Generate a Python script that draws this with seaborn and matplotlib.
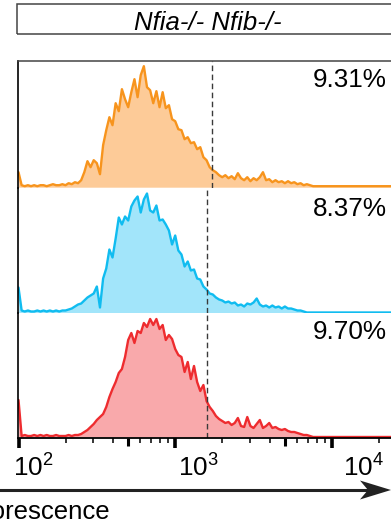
import numpy as np
import pandas as pd
import matplotlib
matplotlib.use("Agg")
import matplotlib.pyplot as plt
import matplotlib.transforms as mtransforms
from matplotlib.patches import Polygon, Rectangle
from matplotlib.lines import Line2D
import seaborn as sns

# ---------------- data ----------------
TITLE = "Nfia-/- Nfib-/-"
XLABEL = "Fluorescence"
PERCENTS = ["9.31%", "8.37%", "9.70%"]
GATES = [1718, 1596, 1596]
LINE_COLORS = ["#F7941D", "#10BCF0", "#EE2C2F"]
FILL_COLORS = ["#FDCB98", "#A2E5FA", "#F9A9AB"]

TICK_VALUES = [1e2, 5e2, 1e3, 5e3, 1e4]
TICK_LABELS = [r"$\mathregular{10^{2}}$", "", r"$\mathregular{10^{3}}$", "",
               r"$\mathregular{10^{4}}$"]
MINOR_TICKS = [200, 300, 400, 600, 700, 800, 900,
               2000, 3000, 4000, 6000, 7000, 8000, 9000, 20000]

# histogram bins: log10 start / step, plus one tail bin
LOG_START = 2.0
LOG_STEP = 0.02
LOG_TAIL = 4.40

ORANGE_COUNTS = [15, 2, 1, 2, 1, 2, 1, 2, 2, 1,
                 2, 3, 2, 2, 3, 2, 4, 3, 5, 4,
                 7, 15, 26, 20, 27, 24, 13, 42, 57, 70,
                 62, 84, 76, 98, 88, 80, 95, 108, 90, 112,
                 121, 100, 97, 84, 96, 80, 95, 79, 82, 68,
                 66, 58, 57, 48, 50, 44, 45, 38, 40, 30,
                 27, 20, 17, 15, 12, 10, 12, 9, 11, 8,
                 14, 9, 7, 10, 6, 9, 7, 10, 15, 7,
                 8, 5, 7, 5, 6, 4, 6, 4, 5, 3,
                 4, 2, 3, 2, 1, 1,
                 1]
BLUE_COUNTS = [25, 2, 1, 2, 1, 1, 2, 1, 2, 1,
               2, 1, 2, 1, 2, 2, 3, 4, 6, 8,
               9, 12, 15, 17, 19, 26, 5, 34, 44, 63,
               55, 74, 95, 88, 96, 92, 106, 112, 116, 100,
               113, 119, 102, 100, 107, 92, 93, 88, 82, 68,
               77, 62, 58, 46, 51, 42, 43, 34, 33, 26,
               23, 19, 18, 15, 13, 12, 10, 11, 9, 10,
               7, 8, 6, 9, 8, 10, 14, 8, 6, 7,
               5, 7, 5, 6, 4, 6, 4, 4, 3, 2,
               2, 1, 0, 0, 0, 0,
               0]
RED_COUNTS = [37, 1, 2, 1, 1, 2, 1, 2, 1, 2,
              1, 1, 2, 1, 1, 1, 2, 1, 2, 2,
              3, 5, 7, 10, 13, 17, 20, 23, 30, 40,
              48, 55, 64, 68, 80, 97, 104, 94, 106, 104,
              114, 110, 118, 112, 118, 108, 112, 97, 102, 98,
              88, 82, 80, 65, 75, 58, 71, 55, 46, 52,
              36, 30, 26, 21, 18, 16, 14, 15, 12, 14,
              19, 11, 10, 20, 11, 9, 13, 17, 9, 11,
              14, 9, 10, 8, 7, 8, 6, 5, 5, 4,
              3, 2, 2, 1, 0, 0,
              0]
SERIES = [ORANGE_COUNTS, BLUE_COUNTS, RED_COUNTS]

# ---------------- style ----------------
sns.set_style("white")
plt.rcParams["font.family"] = ["Liberation Sans", "DejaVu Sans"]
plt.rcParams["mathtext.fontset"] = "custom"
plt.rcParams["mathtext.rm"] = "Liberation Sans"
plt.rcParams["mathtext.it"] = "Liberation Sans:italic"
plt.rcParams["mathtext.bf"] = "Liberation Sans:bold"

W, H = 391, 524
fig = plt.figure(figsize=(W / 100, H / 100), dpi=100)

def rect(x0, ytop, x1, ybot):
    return [x0 / W, 1 - ybot / H, (x1 - x0) / W, (ybot - ytop) / H]

PANELS = [(61, 188), (188, 313.3), (313.3, 437.8)]
n_main = len(ORANGE_COUNTS) - 1
log_x = np.append(np.round(LOG_START + LOG_STEP * np.arange(n_main), 3), LOG_TAIL)
x_vals = 10 ** log_x

XMIN = 10 ** (2 + (18 - 18.5) / 156.7)
XMAX = 10 ** (2 + (391 - 18.5) / 156.7)

axes = []
for i, (ytop, ybot) in enumerate(PANELS):
    ax = fig.add_axes(rect(18, ytop, 391, ybot))
    counts = SERIES[i]
    df = pd.DataFrame({"intensity": x_vals, "count": counts})
    ax.fill_between(df["intensity"], 0, df["count"], color=FILL_COLORS[i], lw=0)
    sns.lineplot(data=df, x="intensity", y="count", color=LINE_COLORS[i],
                 lw=1.7, ax=ax)
    ax.set_xscale("log")
    ax.set_xlim(XMIN, XMAX)
    ax.set_ylim(-0.8, (ybot - ytop) - 0.8)
    ax.axvline(GATES[i], color="#3a3a3a", lw=1.0, ls=(0, (4, 2.5)))
    ax.set_xlabel("")
    ax.set_ylabel("")
    ax.set_yticks([])
    for s in ["right", "top", "bottom"]:
        ax.spines[s].set_visible(False)
    ax.spines["left"].set_color("black")
    ax.spines["left"].set_linewidth(1.2)
    if i == 0:
        ax.spines["top"].set_visible(True)
        ax.spines["top"].set_color("#444444")
        ax.spines["top"].set_linewidth(1.1)
    if i < 2:
        ax.tick_params(axis="x", which="both", bottom=False, labelbottom=False)
    ax.patch.set_alpha(0)
    axes.append(ax)

# bottom axis ticks
axb = axes[-1]
axb.spines["bottom"].set_visible(True)
axb.spines["bottom"].set_color("black")
axb.spines["bottom"].set_linewidth(1.3)
axb.set_xticks(TICK_VALUES)
axb.set_xticklabels(TICK_LABELS)
axb.set_xticks(MINOR_TICKS, minor=True)
axb.xaxis.set_minor_formatter(matplotlib.ticker.NullFormatter())
axb.tick_params(axis="x", which="major", bottom=True, length=7.5, width=2.6,
                color="black", direction="out", pad=4.5, labelsize=18.8,
                labelcolor="black")
axb.tick_params(axis="x", which="minor", bottom=True, length=3.8, width=1.1,
                color="black", direction="out")
label_shift_px = [14.5, 0, 23.5, 0, 32]
for t, v, dx in zip(axb.xaxis.get_major_ticks(), TICK_VALUES, label_shift_px):
    if v in (5e2, 5e3):
        t.tick1line.set_markersize(6)
        t.tick1line.set_markeredgewidth(2.2)
    off = mtransforms.ScaledTranslation(dx / 100, 0, fig.dpi_scale_trans)
    t.label1.set_transform(t.label1.get_transform() + off)

# percent labels
for pct, base in zip(PERCENTS, [87, 216, 339]):
    fig.text(387 / W, 1 - base / H, pct, ha="right", va="baseline",
             fontsize=18.8, color="black")

# title box
fig.add_artist(Rectangle((17 / W, 1 - 34 / H), (400 - 17) / W, 30 / H,
                         transform=fig.transFigure, fill=False,
                         ec="#444444", lw=1.1))
fig.text(207.5 / W, 1 - 29.5 / H, TITLE, ha="center", va="baseline",
         fontsize=18.5, style="italic", color="black")

# axis arrow
ya = 1 - 490 / H
fig.add_artist(Line2D([-0.01, 372 / W], [ya, ya], transform=fig.transFigure,
                      color="#222222", lw=2.2))
head = [(360, 480.5), (391, 490), (360, 499.5), (368, 490)]
fig.add_artist(Polygon([(px / W, 1 - py / H) for px, py in head], closed=True,
                       transform=fig.transFigure, fc="#222222", ec="none"))

# axis label (its start is cut off at the left edge, as in the reference)
fig.text(111 / W, 1 - 519 / H, XLABEL, ha="right", va="baseline",
         fontsize=18.5, color="black")

fig.savefig("out.png", dpi=100)
